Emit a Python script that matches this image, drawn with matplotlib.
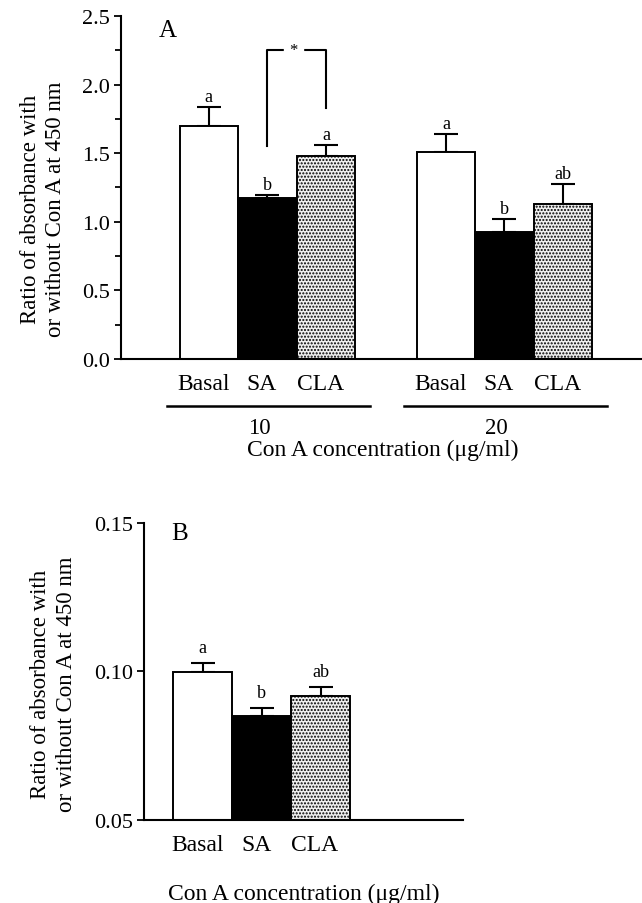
import numpy as np
import matplotlib.pyplot as plt
from matplotlib.transforms import ScaledTranslation

plt.rcParams['font.family'] = ['Liberation Serif', 'DejaVu Serif']

treatments = ['Basal', 'SA', 'CLA']
conc_labels = ['10', '20']

# panel A: ratio at 10 and 20 ug/ml Con A
a_mean_10 = [1.70, 1.173, 1.478]
a_err_10 = [0.135, 0.025, 0.085]
a_mean_20 = [1.507, 0.923, 1.13]
a_err_20 = [0.136, 0.095, 0.146]
a_letters_10 = ['a', 'b', 'a']
a_letters_20 = ['a', 'b', 'ab']

# panel B
b_mean = [0.0999, 0.0850, 0.0918]
b_err = [0.0029, 0.0027, 0.0030]
b_letters = ['a', 'b', 'ab']

ylabel = 'Ratio of absorbance with\nor without Con A at 450 nm'
xlabel = 'Con A concentration (\u03bcg/ml)'

colors = ['white', 'black', '#efefef']
hatches = ['', '', '.....']

plt.rcParams['hatch.color'] = '#9c9c9c'
plt.rcParams['hatch.linewidth'] = 1.0

fig = plt.figure(figsize=(6.42, 9.04), dpi=100)


def draw_bars(ax, x, means, errs, letters, pad):
    for i in range(len(x)):
        ax.bar(x[i], means[i], width=1.0, color=colors[i], hatch=hatches[i],
               edgecolor='black', linewidth=1.4, zorder=2)
        ax.errorbar(x[i], means[i], yerr=[[0], [errs[i]]], fmt='none',
                    ecolor='black', elinewidth=1.5, capsize=8.5, capthick=1.5, zorder=1)
        ax.annotate(letters[i], (x[i], means[i] + errs[i]), xytext=(0, pad),
                    textcoords='offset points', ha='center', va='center', fontsize=13)


def style_axis(ax):
    ax.spines['top'].set_visible(False)
    ax.spines['right'].set_visible(False)
    for s in ['left', 'bottom']:
        ax.spines[s].set_linewidth(1.5)
    ax.tick_params(axis='y', direction='out', length=5, width=1.3, labelsize=16, pad=3)
    ax.tick_params(axis='y', which='minor', direction='out', length=4, width=1.3)
    ax.tick_params(axis='x', length=0, labelsize=17, pad=10)
    # labels sit a little left of the bar centres in the original
    for lab in ax.get_xticklabels():
        lab.set_transform(lab.get_transform() + ScaledTranslation(-4 / 72, 0, fig.dpi_scale_trans))


# ---- panel A ----
axA = fig.add_axes([0.1885, 0.602, 0.8115, 0.379])
x10 = np.arange(3) + 1.5
x20 = np.arange(3) + 5.55
draw_bars(axA, x10, a_mean_10, a_err_10, a_letters_10, 7.5)
draw_bars(axA, x20, a_mean_20, a_err_20, a_letters_20, 7.5)
axA.set_xlim(0, 8.9)
axA.set_ylim(0, 2.5)
axA.set_yticks(np.arange(0, 2.51, 0.5))
axA.set_yticks(np.arange(0, 2.51, 0.25), minor=True)
axA.yaxis.set_major_formatter(plt.FormatStrFormatter('%.1f'))
axA.set_xticks(np.concatenate([x10, x20]))
axA.set_xticklabels(treatments * 2)
style_axis(axA)
axA.set_ylabel(ylabel, fontsize=16.5, linespacing=1.3)
axA.yaxis.set_label_coords(-0.105, 0.44)
axA.text(0.09, 0.96, 'A', transform=axA.transAxes, fontsize=18, ha='center', va='center')

# significance bracket SA vs CLA at 10
br_top = 2.25
axA.plot([x10[1], x10[1], x10[2], x10[2]],
         [a_mean_10[1] + 0.38, br_top, br_top, a_mean_10[0] + 0.13],
         color='black', lw=1.5, zorder=3)
axA.text((x10[1] + x10[2]) / 2 - 0.05, br_top, '*', ha='center', va='center',
         fontsize=12, backgroundcolor='white', zorder=4)

# group lines and concentration labels under axis A
for xs, lab in zip([x10, x20], conc_labels):
    x0, x1 = xs[0] - 0.72, xs[-1] + 0.75
    axA.plot([x0, x1], [-0.345, -0.345], color='black', lw=1.8, clip_on=False)
    axA.text((x0 + x1) / 2 - 0.15, -0.5, lab, ha='center', va='center', fontsize=16.5)
axA.text(0.503, -0.265, xlabel, transform=axA.transAxes, ha='center', va='center', fontsize=17)

# ---- panel B ----
axB = fig.add_axes([0.2243, 0.0922, 0.4969, 0.3282])
xb = np.arange(3) + 1.0
draw_bars(axB, xb, b_mean, b_err, b_letters, 11)
axB.set_xlim(0, 5.42)
axB.set_ylim(0.05, 0.15)
axB.set_yticks([0.05, 0.10, 0.15])
axB.yaxis.set_major_formatter(plt.FormatStrFormatter('%.2f'))
axB.set_xticks(xb)
axB.set_xticklabels(treatments)
style_axis(axB)
axB.set_ylabel(ylabel, fontsize=16.5, linespacing=1.3)
axB.yaxis.set_label_coords(-0.21, 0.46)
axB.text(0.113, 0.965, 'B', transform=axB.transAxes, fontsize=18, ha='center', va='center')
axB.text(0.50, -0.25, xlabel, transform=axB.transAxes, ha='center', va='center', fontsize=17)

fig.savefig('out.png', dpi=100)
